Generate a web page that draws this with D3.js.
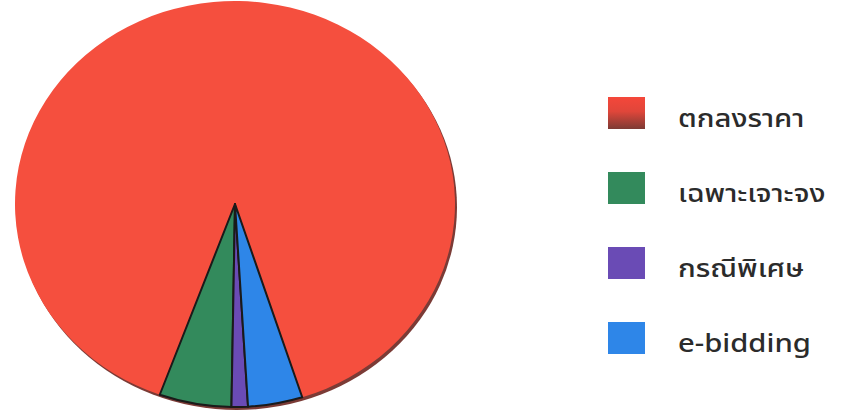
<!DOCTYPE html>
<html>
<head>
<meta charset="utf-8">
<script src="https://cdn.jsdelivr.net/npm/d3@7"></script>
<style>
  body { margin: 0; background: #fff; }
  svg { display: block; }
</style>
</head>
<body>
<svg id="chart" width="843" height="413"></svg>
<script>
// categories and shares (percent)
const categories = ["ตกลงราคา", "เฉพาะเจาะจง", "กรณีพิเศษ", "e-bidding"];
const shares = [89.5, 5.3, 1.2, 4.0];
const colors = ["#f54f3e", "#338a5c", "#6a4bb5", "#2e86e8"];

const svg = d3.select("#chart");

// pie is slightly squashed into an ellipse
const cx = 235, cy = 204, ry = 203, rx = 220;

const pie = d3.pie()
  .sort(null)
  .value(d => d.value)
  .startAngle(522.2 * Math.PI / 180)   // goes counter-clockwise
  .endAngle(162.2 * Math.PI / 180);

const arc = d3.arc().innerRadius(0).outerRadius(ry);

const data = categories.map((c, i) => ({ name: c, value: shares[i], color: colors[i] }));

// dark rim along the lower right edge
svg.append("ellipse")
  .attr("cx", cx + 2).attr("cy", cy + 3)
  .attr("rx", rx).attr("ry", ry)
  .attr("fill", "#7b3b36");

const g = svg.append("g")
  .attr("transform", `translate(${cx},${cy}) scale(${rx / ry},1)`);

g.selectAll("path")
  .data(pie(data))
  .join("path")
  .attr("d", arc)
  .attr("fill", d => d.data.color)
  .attr("stroke", (d, i) => i === 0 ? "none" : "#1a1a1a")
  .attr("stroke-width", 2)
  .attr("stroke-linejoin", "round")
  .attr("vector-effect", "non-scaling-stroke");

// legend
const defs = svg.append("defs");
const grad = defs.append("linearGradient")
  .attr("id", "redGrad").attr("x1", 0).attr("y1", 0).attr("x2", 0).attr("y2", 1);
grad.append("stop").attr("offset", "0%").attr("stop-color", "#f5473a");
grad.append("stop").attr("offset", "45%").attr("stop-color", "#e0463a");
grad.append("stop").attr("offset", "100%").attr("stop-color", "#7d3a34");

const legendY = d3.scalePoint().domain(categories).range([113, 338]);

const legend = svg.append("g").selectAll("g")
  .data(data)
  .join("g")
  .attr("transform", d => `translate(608,${legendY(d.name)})`);

legend.append("rect")
  .attr("x", 0).attr("y", -16)
  .attr("width", 37).attr("height", 32)
  .attr("fill", (d, i) => i === 0 ? "url(#redGrad)" : d.color);

// the original font is wider and flatter than Noto, so stretch a little
legend.append("text")
  .attr("transform", "translate(70,5) scale(1.17,1)")
  .attr("dy", "0.35em")
  .attr("font-family", "'Noto Sans Thai', 'Noto Sans', sans-serif")
  .attr("font-size", 25)
  .attr("font-weight", 500)
  .attr("fill", "#2b2b2b")
  .text(d => d.name);
</script>
</body>
</html>
